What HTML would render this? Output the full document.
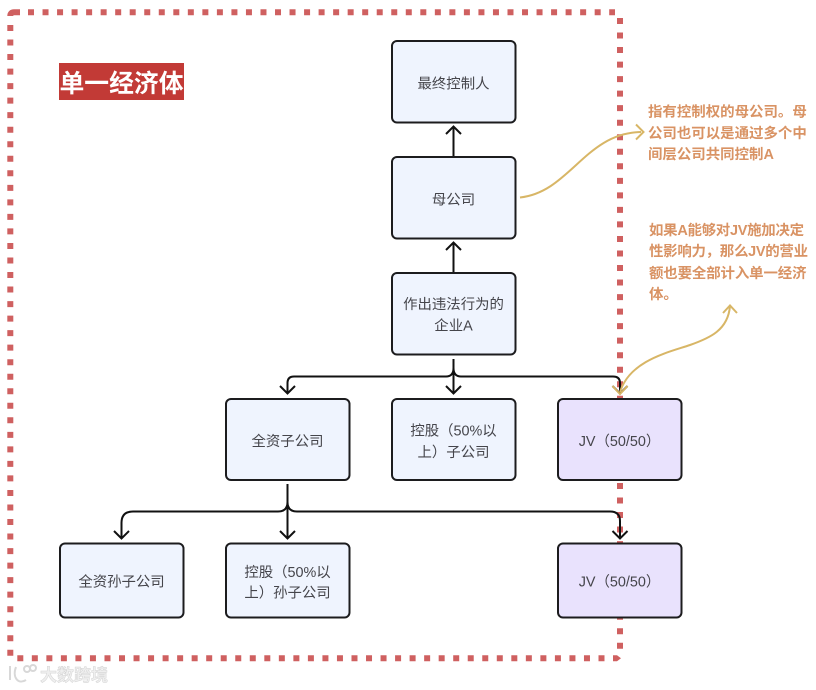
<!DOCTYPE html>
<html lang="zh">
<head>
<meta charset="utf-8">
<style>
html,body{margin:0;padding:0;background:#fff;}
svg{display:block;}
text{font-family:"Liberation Sans","Noto Sans CJK SC",sans-serif;}
.n{fill:#eff4fe;stroke:#1c1c1e;stroke-width:2;}
.p{fill:#e9e2fd;stroke:#1c1c1e;stroke-width:2;}
.t{font-size:14.400px;fill:#45454b;text-anchor:middle;}
.o{font-size:14.450px;fill:#d99364;font-weight:700;}
.c{fill:none;stroke:#111;stroke-width:2;}
.g{fill:none;stroke:#d8b666;stroke-width:2;}
.d{fill:none;stroke:#cf6060;stroke-width:6;stroke-dasharray:6 8.530;}
.w{font-size:17px;font-weight:700;fill:#efefef;stroke:#d4d4d4;stroke-width:.5;}
</style>
</head>
<body>
<svg width="816" height="690" viewBox="0 0 816 690" xmlns="http://www.w3.org/2000/svg">
<rect width="816" height="690" fill="#fff"/>

<path d="M28 12.300H615" class="d"/>
<path d="M10.300 25V656" class="d"/>
<path d="M620 18V650" class="d"/>
<path d="M17.300 658.300H605" class="d"/>
<path d="M20 12.300H14Q10.300 12.300 10.300 16" fill="none" stroke="#cf6060" stroke-width="6"/>
<path d="M613 655.300H617L621 658.300L617 661.300H613Z" fill="#cf6060"/>

<rect x="59" y="63" width="125" height="37" fill="#c23a36"/>
<text x="121.500" y="92" font-weight="700" fill="#fff" text-anchor="middle" style="font-size:24.800px">单一经济体</text>

<path class="c" d="M453.500 156V128M446 134L453.500 126.500L461 134"/>
<path class="c" d="M453.500 272V244M446 250L453.500 242.500L461 250"/>
<path class="c" d="M453.500 359V393M446 386L453.500 393.500L461 386"/>
<path class="c" d="M453.500 368Q453.500 376.500 446 376.500H294Q287.500 376.500 287.500 383V393.500M280 386L287.500 393.500L295 386"/>
<path class="c" d="M453.500 368Q453.500 376.500 461 376.500H613Q620 376.500 620 383V393.500M612.500 386L620 393.500L627.500 386"/>
<path class="c" d="M287.500 484V538M280 531L287.500 538.500L295 531"/>
<path class="c" d="M287.500 502Q287.500 511.500 278 511.500H133Q121.500 511.500 121.500 523V538M114 531L121.500 538.500L129 531"/>
<path class="c" d="M287.500 502Q287.500 511.500 297 511.500H610Q620 511.500 620 521V538M612.500 531L620 538.500L627.500 531"/>

<rect class="n" x="392" y="41" width="123.500" height="81.500" rx="5"/>
<rect class="n" x="392" y="157" width="123.500" height="81.500" rx="5"/>
<rect class="n" x="392" y="273" width="123.500" height="81.500" rx="5"/>
<rect class="n" x="226" y="399" width="123.500" height="81" rx="5"/>
<rect class="n" x="392" y="399" width="123.500" height="81" rx="5"/>
<rect class="p" x="558" y="399" width="123.500" height="81" rx="5"/>
<rect class="n" x="60" y="543.500" width="123.500" height="74" rx="5"/>
<rect class="n" x="226" y="543.500" width="123.500" height="74" rx="5"/>
<rect class="p" x="558" y="543.500" width="123.500" height="74" rx="5"/>

<text class="t" x="453.500" y="88.500">最终控制人</text>
<text class="t" x="453.500" y="204.500">母公司</text>
<text class="t" x="453.500" y="309">作出违法行为的</text>
<text class="t" x="453.500" y="330.500">企业A</text>
<text class="t" x="287.500" y="446">全资子公司</text>
<text class="t" x="453.500" y="435.500">控股（50%以</text>
<text class="t" x="453.500" y="457">上）子公司</text>
<text class="t" x="619.500" y="446">JV（50/50）</text>
<text class="t" x="121.500" y="586.500">全资孙子公司</text>
<text class="t" x="287.500" y="577">控股（50%以</text>
<text class="t" x="287.500" y="597.500">上）孙子公司</text>
<text class="t" x="619.500" y="586.500">JV（50/50）</text>

<path class="g" d="M520 197.500C570 192 585 133 641 132"/>
<path class="g" d="M636 124.500L643.500 132L636 139.500"/>
<path class="g" d="M620 392C630 360 670 352 690 345S728 330 730 306"/>
<path class="g" d="M723 313L730 305.500L737 313"/>
<path class="g" d="M612.500 386L620 394L627.500 386"/>

<text class="o" x="648" y="116.500">指有控制权的母公司。母</text>
<text class="o" x="648" y="138">公司也可以是通过多个中</text>
<text class="o" x="648" y="159">间层公司共同控制A</text>
<text class="o" x="649" y="235" textLength="155" lengthAdjust="spacing">如果A能够对JV施加决定</text>
<text class="o" x="649" y="256" textLength="159" lengthAdjust="spacing">性影响力，那么JV的营业</text>
<text class="o" x="649" y="278" textLength="157.500" lengthAdjust="spacing">额也要全部计入单一经济</text>
<text class="o" x="649" y="299">体。</text>

<g fill="none" stroke="#d8d8d8" stroke-width="2">
<path d="M10 666V680"/>
<path d="M16 667C12 677 18 685 26 680"/>
<circle cx="27" cy="669" r="3"/>
<circle cx="33" cy="668" r="3"/>
</g>
<text class="w" x="40" y="681">大数跨境</text>
</svg>
</body>
</html>
